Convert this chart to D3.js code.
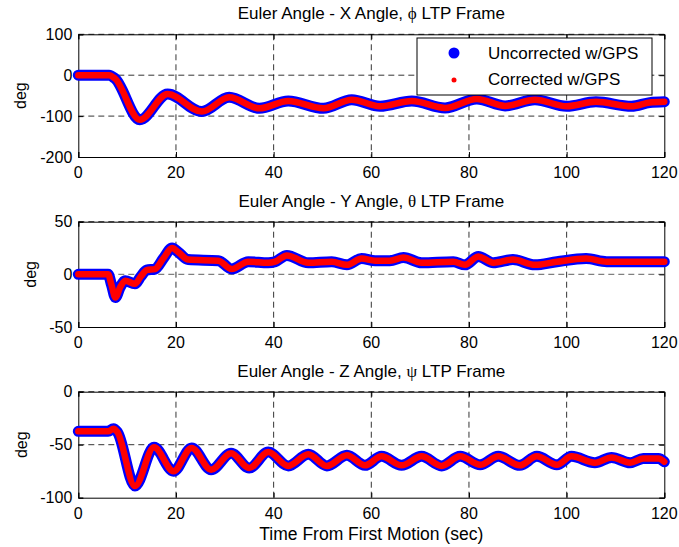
<!DOCTYPE html>
<html>
<head>
<meta charset="utf-8">
<script src="https://cdn.jsdelivr.net/npm/d3@7"></script>
<style>
  body { margin: 0; background: #fff; }
  svg { display: block; font-family: Arial, "Liberation Sans", sans-serif; }
  .tick-label { font-size: 16px; fill: #000; }
  .legend-label { font-size: 17px; fill: #000; }
  .title { font-size: 17px; fill: #000; }
</style>
</head>
<body>
<div id="chart"></div>
<script>
// time stamps (sec) and angles (deg)
const timeTicks = [0, 20, 40, 60, 80, 100, 120];

const rollTime = [0, 6.3, 7.5, 12.6, 18.3, 25.3, 30.9, 37.1, 43, 50.2, 56, 61.8, 68.3, 75.1, 81.6, 87.4, 93.5, 100, 106, 113.3, 117, 120];
const rollUncorrected = [0, 0, -8, -109, -46, -89, -54, -81, -63, -81, -60, -76, -63, -80, -58, -75, -60, -76, -65, -76, -67, -65];
const rollCorrected = [0, 0, -8, -109, -46, -89, -54, -81, -63, -81, -60, -76, -63, -80, -58, -75, -60, -76, -65, -76, -67, -65];
const rollTicks = [-200, -100, 0, 100];

const pitchTime = [0, 6.1, 6.8, 7.6, 8.6, 9.6, 11.6, 12.8, 14, 15.7, 17.4, 19.2, 20.5, 22.5, 28.7, 31.4, 34.8, 38.9, 40.3, 42.7, 47.1, 51.9, 55, 58, 60.8, 63.8, 66.6, 70.3, 76.8, 79.2, 81.9, 85, 89, 93.5, 98, 104, 108.2, 120];
const pitchUncorrected = [0, 0, -10, -22, -12, -6, -9, -2, 4, 5, 15, 25, 21, 14, 13, 5, 12, 11, 12, 18, 11, 12, 9, 15, 13, 13, 16, 11, 12, 9, 17, 11, 14, 9, 12, 15, 12, 12];
const pitchCorrected = [0, 0, -10, -22, -12, -6, -9, -2, 4, 5, 15, 25, 21, 14, 13, 5, 12, 11, 12, 18, 11, 12, 9, 15, 13, 13, 16, 11, 12, 9, 17, 11, 14, 9, 12, 15, 12, 12];
const pitchTicks = [-50, 0, 50];

const yawTime = [0, 6.1, 7.2, 8, 11.6, 15.5, 19.5, 23.2, 27.2, 31.3, 35, 38.9, 43, 47.1, 50.9, 55, 58.7, 62.1, 66.2, 70.3, 74.4, 78.2, 82.3, 86, 90.4, 93.9, 98, 101, 105.8, 109.2, 113, 115.7, 118.8, 120];
const yawUncorrected = [-37.4, -37.4, -35, -38, -89, -52.5, -75, -53, -73.6, -58, -72, -57, -70, -59, -70, -60, -69.5, -61, -69.5, -61, -70, -61, -69, -61, -69.5, -61, -69, -61, -67, -62, -67, -63, -63, -66];
const yawCorrected = [-37.4, -37.4, -35, -38, -89, -52.5, -75, -53, -73.6, -58, -72, -57, -70, -59, -70, -60, -69.5, -61, -69.5, -61, -70, -61, -69, -61, -69.5, -61, -69, -61, -67, -62, -67, -63, -63, -66];
const yawTicks = [-100, -50, 0];

const seriesNames = ["Uncorrected w/GPS", "Corrected w/GPS"];

const width = 679, height = 547;
const left = 78.3, right = 664.3;

const panels = [
    { title: "Euler Angle - X Angle, ", greek: "\u03D5", top: 34.3, bottom: 157, ticks: rollTicks,
      time: rollTime, unc: rollUncorrected, cor: rollCorrected, ylabX: 20, legend: true },
    { title: "Euler Angle - Y Angle, ", greek: "\u03B8", top: 221.7, bottom: 327, ticks: pitchTicks,
      time: pitchTime, unc: pitchUncorrected, cor: pitchCorrected, ylabX: 30, zeroGray: true },
    { title: "Euler Angle - Z Angle, ", greek: "\u03C8", top: 391.7, bottom: 497.7, ticks: yawTicks,
      time: yawTime, unc: yawUncorrected, cor: yawCorrected, ylabX: 21 }
];

const svg = d3.select("#chart").append("svg")
    .attr("width", width)
    .attr("height", height);

const x = d3.scaleLinear().domain([0, 120]).range([left, right]);

panels.forEach(p => {
    let y = d3.scaleLinear()
        .domain(d3.extent(p.ticks))
        .range([p.bottom, p.top]);

    let g = svg.append("g");

    // dashed grid
    g.selectAll(".vgrid")
        .data(timeTicks.slice(1, -1))
        .enter().append("line")
        .attr("x1", d => x(d)).attr("x2", d => x(d))
        .attr("y1", p.top).attr("y2", p.bottom)
        .attr("stroke", "#000")
        .attr("stroke-width", 0.8)
        .attr("stroke-dasharray", "6,4");

    g.selectAll(".hgrid")
        .data(p.ticks.slice(1))
        .enter().append("line")
        .attr("x1", left).attr("x2", right)
        .attr("y1", d => y(d)).attr("y2", d => y(d))
        .attr("stroke", d => (p.zeroGray && d === 0) ? "#808080" : "#000")
        .attr("stroke-width", d => (p.zeroGray && d === 0) ? 1.2 : 0.8)
        .attr("stroke-dasharray", "6,4");

    // axes with inward ticks
    let xAxis = d3.axisBottom(x).tickValues(timeTicks).tickSize(-5).tickFormat("");
    let xAxisTop = d3.axisTop(x).tickValues(timeTicks).tickSize(-5).tickFormat("");
    let yAxis = d3.axisLeft(y).tickValues(p.ticks).tickSize(-5).tickFormat("");
    let yAxisRight = d3.axisRight(y).tickValues(p.ticks).tickSize(-5).tickFormat("");

    [[xAxis, `translate(0,${p.bottom})`], [xAxisTop, `translate(0,${p.top})`],
     [yAxis, `translate(${left},0)`], [yAxisRight, `translate(${right},0)`]].forEach(a => {
        let ax = g.append("g").attr("transform", a[1]).call(a[0]);
        ax.select(".domain").attr("stroke", "#000").attr("stroke-width", 1);
        ax.selectAll(".tick line").attr("stroke", "#000");
    });

    // tick labels
    g.selectAll(".xlab")
        .data(timeTicks)
        .enter().append("text")
        .attr("class", "tick-label")
        .attr("x", d => x(d))
        .attr("y", p.bottom + 21)
        .attr("text-anchor", "middle")
        .text(d => d);

    g.selectAll(".ylab")
        .data(p.ticks)
        .enter().append("text")
        .attr("class", "tick-label")
        .attr("x", left - 6)
        .attr("y", d => y(d))
        .attr("dy", "0.35em")
        .attr("text-anchor", "end")
        .text(d => d);

    g.append("text")
        .attr("class", "tick-label")
        .attr("transform", `translate(${p.ylabX},${(p.top + p.bottom) / 2}) rotate(-90)`)
        .attr("dy", "0.35em")
        .attr("text-anchor", "middle")
        .text("deg");

    let t = g.append("text")
        .attr("class", "title")
        .attr("x", (left + right) / 2)
        .attr("y", p.top - 15)
        .attr("text-anchor", "middle");
    t.append("tspan").text(p.title);
    t.append("tspan").attr("font-family", "'Liberation Serif', 'DejaVu Serif', serif").attr("font-size", "17px").text(p.greek);
    t.append("tspan").text(" LTP Frame");

    // data
    let line = d3.line()
        .x((d, i) => x(p.time[i]))
        .y(d => y(d))
        .curve(d3.curveMonotoneX);

    g.append("path")
        .datum(p.unc)
        .attr("d", line)
        .attr("fill", "none")
        .attr("stroke", "#0000ff")
        .attr("stroke-width", 11)
        .attr("stroke-linecap", "round")
        .attr("stroke-linejoin", "round");

    g.append("path")
        .datum(p.cor)
        .attr("d", line)
        .attr("fill", "none")
        .attr("stroke", "#ff0000")
        .attr("stroke-width", 6.5)
        .attr("stroke-linecap", "round")
        .attr("stroke-linejoin", "round");

    if (p.legend) {
        let lg = g.append("g");
        lg.append("rect")
            .attr("x", 417).attr("y", 38)
            .attr("width", 235).attr("height", 57)
            .attr("fill", "#fff")
            .attr("stroke", "#000");
        lg.append("circle").attr("cx", 454).attr("cy", 53).attr("r", 5.5).attr("fill", "#0000ff");
        lg.append("circle").attr("cx", 454).attr("cy", 80).attr("r", 2.5).attr("fill", "#ff0000");
        lg.selectAll(".lgtext")
            .data(seriesNames)
            .enter().append("text")
            .attr("class", "legend-label")
            .attr("x", 488)
            .attr("y", (d, i) => 59 + i * 26)
            .text(d => d);
    }
});

svg.append("text")
    .attr("x", (left + right) / 2)
    .attr("y", 540)
    .attr("text-anchor", "middle")
    .attr("font-size", "17.5px")
    .text("Time From First Motion (sec)");
</script>
</body>
</html>
